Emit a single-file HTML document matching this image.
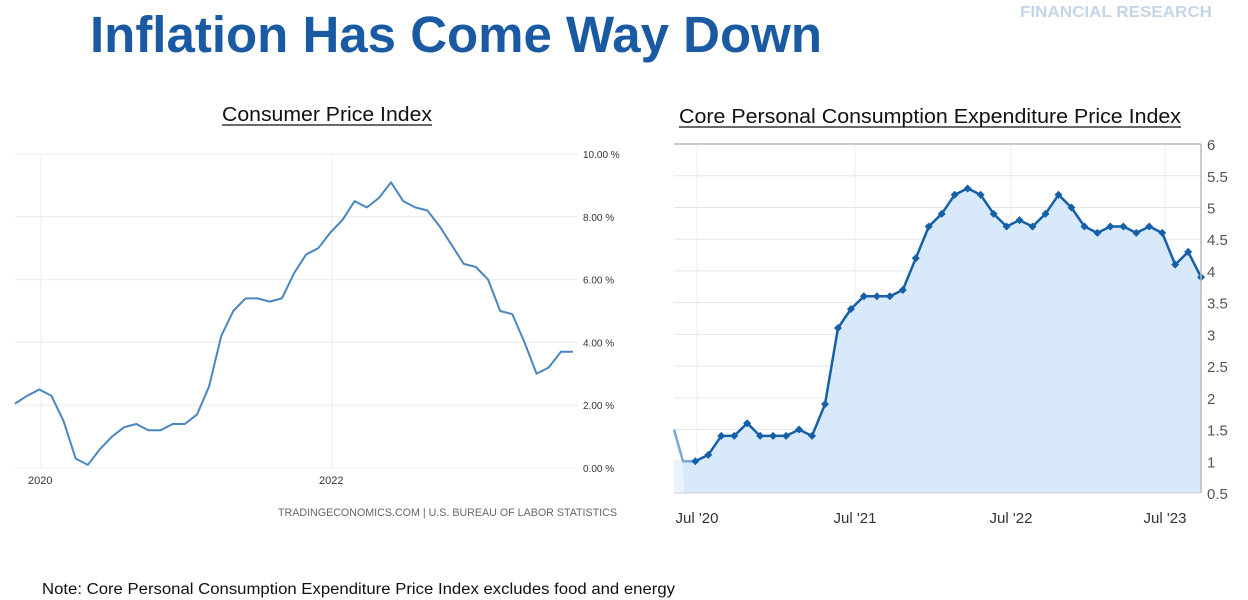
<!DOCTYPE html>
<html><head><meta charset="utf-8"><style>
html,body{margin:0;padding:0;background:#fff;width:1248px;height:600px;overflow:hidden}
svg{display:block}
</style></head><body>
<svg id="s" width="1248" height="600" xmlns="http://www.w3.org/2000/svg" font-family="Liberation Sans, sans-serif">
<text x="90" y="52" font-size="51" font-weight="bold" fill="#1a5aa2" textLength="732" lengthAdjust="spacingAndGlyphs">Inflation Has Come Way Down</text>
<text x="1020" y="17" font-size="15.5" font-weight="bold" fill="#c5d5e8" textLength="192" lengthAdjust="spacingAndGlyphs">FINANCIAL RESEARCH</text>
<text x="222" y="121" font-size="20" fill="#111" textLength="210" lengthAdjust="spacingAndGlyphs">Consumer Price Index</text>
<line x1="222" y1="125" x2="432" y2="125" stroke="#111" stroke-width="1.3"/>
<text x="679" y="123" font-size="20" fill="#111" textLength="502" lengthAdjust="spacingAndGlyphs">Core Personal Consumption Expenditure Price Index</text>
<line x1="679" y1="127" x2="1181" y2="127" stroke="#111" stroke-width="1.3"/>
<text x="42" y="594" font-size="15.5" fill="#111" textLength="633" lengthAdjust="spacingAndGlyphs">Note: Core Personal Consumption Expenditure Price Index excludes food and energy</text>
<g id="left"></g>
<g id="right"></g>
</svg>
<script>
var NS="http://www.w3.org/2000/svg";
function el(p,t,a,txt){var e=document.createElementNS(NS,t);for(var k in a)e.setAttribute(k,a[k]);if(txt!=null)e.textContent=txt;p.appendChild(e);return e;}
var L=document.getElementById("left");
for(var v=0;v<=10;v+=2){var y=468-31.4*v;el(L,"line",{x1:15,y1:y,x2:578,y2:y,stroke:"#ececec","stroke-width":1});
el(L,"text",{x:583,y:y+4,"font-size":10,fill:"#333"},v.toFixed(2)+" %");}
[41,332].forEach(function(x){el(L,"line",{x1:x,y1:154,x2:x,y2:468,stroke:"#ececec","stroke-width":1});});
el(L,"text",{x:28,y:484,"font-size":11,fill:"#333"},"2020");
el(L,"text",{x:319,y:484,"font-size":11,fill:"#333"},"2022");
el(L,"text",{x:278,y:516,"font-size":11,fill:"#666",textLength:339,lengthAdjust:"spacingAndGlyphs"},"TRADINGECONOMICS.COM | U.S. BUREAU OF LABOR STATISTICS");
var cpi=[2.05,2.3,2.5,2.3,1.5,0.3,0.1,0.6,1.0,1.3,1.4,1.2,1.2,1.4,1.4,1.7,2.6,4.2,5.0,5.4,5.4,5.3,5.4,6.2,6.8,7.0,7.5,7.9,8.5,8.3,8.6,9.1,8.5,8.3,8.2,7.7,7.1,6.5,6.4,6.0,5.0,4.9,4.0,3.0,3.2,3.7,3.7];
var pts=cpi.map(function(v,i){return (15+12.13*i).toFixed(1)+","+(468-31.4*v).toFixed(1);}).join(" ");
el(L,"polyline",{points:pts,fill:"none",stroke:"#4a86bf","stroke-width":2,"stroke-linejoin":"round"});
var R=document.getElementById("right");
function ry(v){return 493-(v-0.5)*63.45;}
for(var v=0.5;v<=6.01;v+=0.5){var y=ry(v);el(R,"line",{x1:674,y1:y,x2:1201,y2:y,stroke:"#e6e6e6","stroke-width":1});
el(R,"text",{x:1207,y:y+6,"font-size":15,fill:"#555"},(Math.round(v*10)/10).toString());}
var xt=[[697,"Jul '20"],[855,"Jul '21"],[1011,"Jul '22"],[1165,"Jul '23"]];
xt.forEach(function(a){el(R,"line",{x1:a[0],y1:144,x2:a[0],y2:493,stroke:"#ececec","stroke-width":1});
el(R,"text",{x:a[0],y:523,"font-size":15,fill:"#333","text-anchor":"middle"},a[1]);});
var pce=[1.0,1.1,1.4,1.4,1.6,1.4,1.4,1.4,1.5,1.4,1.9,3.1,3.4,3.6,3.6,3.6,3.7,4.2,4.7,4.9,5.2,5.3,5.2,4.9,4.7,4.8,4.7,4.9,5.2,5.0,4.7,4.6,4.7,4.7,4.6,4.7,4.6,4.1,4.3,3.9];
var P=pce.map(function(v,i){return [695.3+12.97*i,ry(v)];});
el(R,"rect",{x:674,y:ry(1.0),width:10,height:493-ry(1.0),fill:"#eaf3fd"});
var area="M684,493 L683,"+ry(1.0)+" "+P.map(function(p){return p[0].toFixed(1)+","+p[1].toFixed(1);}).join(" ")+" L"+P[P.length-1][0].toFixed(1)+",493 Z";
el(R,"path",{d:area,fill:"#d8e9fc"});
el(R,"path",{d:"M674,"+ry(1.5)+" L683,"+ry(1.0)+" L695.3,"+ry(1.0),fill:"none",stroke:"#7aa8d6","stroke-width":2.5});
el(R,"polyline",{points:P.map(function(p){return p[0].toFixed(1)+","+p[1].toFixed(1);}).join(" "),fill:"none",stroke:"#1660a8","stroke-width":2.5,"stroke-linejoin":"round"});
P.forEach(function(p){el(R,"path",{d:"M"+p[0]+","+(p[1]-4)+" l4,4 l-4,4 l-4,-4 Z",fill:"#1660a8"});});
el(R,"line",{x1:674,y1:144,x2:1201,y2:144,stroke:"#bbb","stroke-width":1.5});
el(R,"line",{x1:1201,y1:144,x2:1201,y2:493,stroke:"#bbb","stroke-width":1.5});
el(R,"line",{x1:674,y1:493,x2:1201,y2:493,stroke:"#ccc","stroke-width":1});
</script>
</body></html>
